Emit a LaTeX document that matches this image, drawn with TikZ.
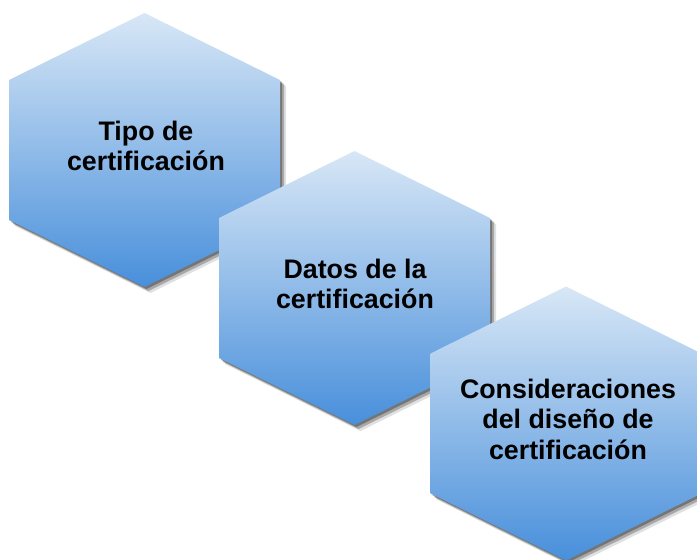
\documentclass[tikz,border=0pt]{standalone}
\usepackage{fontspec}
\setmainfont{Liberation Sans}
\usetikzlibrary{shadows}
\definecolor{hexTop}{RGB}{216,231,246}
\definecolor{hexBottom}{RGB}{72,143,219}
\begin{document}
\begin{tikzpicture}[x=1pt,y=-1pt,
	hexa/.style={top color=hexTop, bottom color=hexBottom,
		drop shadow={shadow xshift=2pt, shadow yshift=-2pt, opacity=.3, fill=black},
		drop shadow={shadow xshift=4pt, shadow yshift=-4pt, opacity=.25, fill=black},
		drop shadow={shadow xshift=6pt, shadow yshift=-6pt, opacity=.12, fill=black}},
	txt/.style={align=center, text=black, font=\bfseries\fontsize{26.8}{30.5}\selectfont}]
	\useasboundingbox (0,0) rectangle (697,560);
	\coordinate (C1) at (144.5, 150);
	\coordinate (C2) at (354.5, 288);
	\coordinate (C3) at (566,   423.5);
	\foreach \c in {C1,C2,C3}
		\path[hexa, shift={(\c)}] (0,-137) -- (135.5,-70) -- (135.5,70) -- (0,137) -- (-135.5,70) -- (-135.5,-70) -- cycle;
	\node (T1) at (146, 146)	[txt]	{Tipo de\\certificación};
	\node (T2) at (355, 284)	[txt]	{Datos de la\\certificación};
	\node (T3) at (568, 419)	[txt]	{Consideraciones\\del diseño de\\certificación};
\end{tikzpicture}
\end{document}
